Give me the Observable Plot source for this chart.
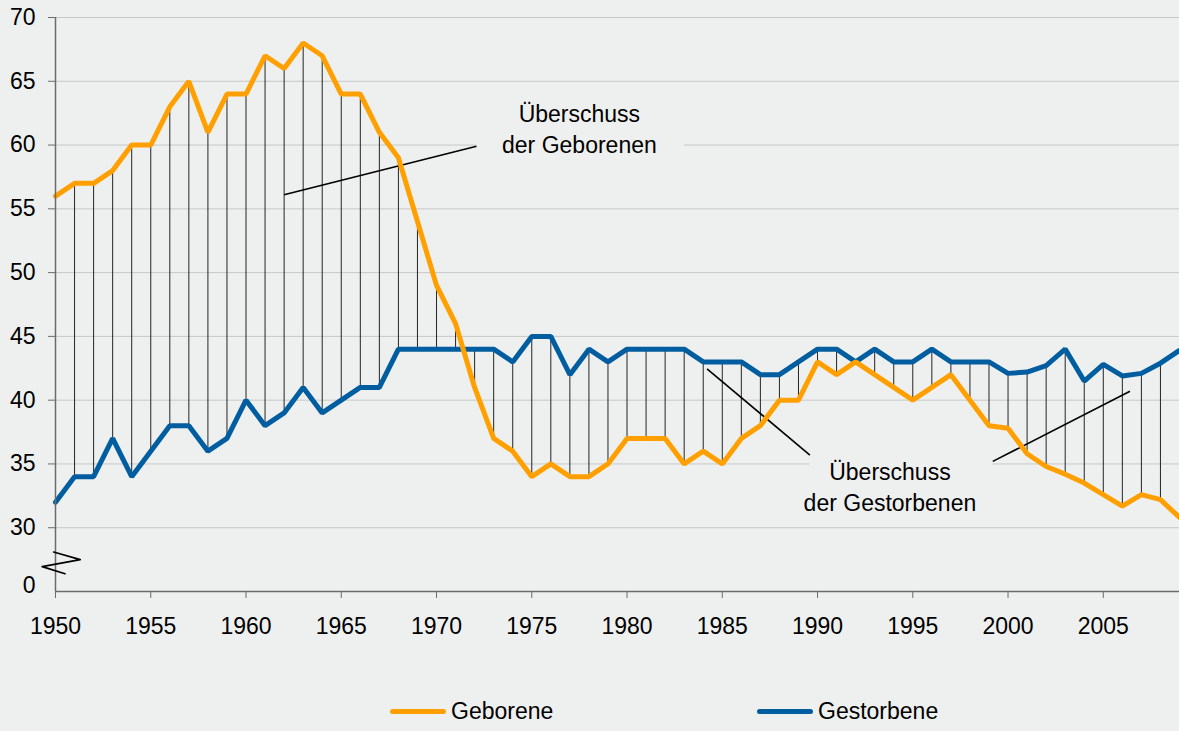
<!DOCTYPE html>
<html>
<head>
<meta charset="utf-8">
<script src="https://cdn.jsdelivr.net/npm/d3@7"></script>
<script src="https://cdn.jsdelivr.net/npm/@observablehq/plot@0.6"></script>
<style>
  html, body { margin: 0; padding: 0; background: #eef0ef; }
  #wrap { width: 1179px; height: 731px; background: #eef0ef; font-family: "Liberation Sans", Arial, sans-serif; position: relative; overflow: hidden; }
  #legend { position: relative; width: 1179px; height: 81px; }
  .item { position: absolute; top: 48px; display: flex; align-items: center; font-size: 23px; color: #000; font-family: "Liberation Sans", Arial, sans-serif; }
  .sw { width: 56px; height: 5px; border-radius: 3px; margin-right: 5px; }
</style>
</head>
<body>
<div id="wrap"><div id="chart"></div><div id="legend"></div></div>
<script>
const years = [1950,1951,1952,1953,1954,1955,1956,1957,1958,1959,
               1960,1961,1962,1963,1964,1965,1966,1967,1968,1969,
               1970,1971,1972,1973,1974,1975,1976,1977,1978,1979,
               1980,1981,1982,1983,1984,1985,1986,1987,1988,1989,
               1990,1991,1992,1993,1994,1995,1996,1997,1998,1999,
               2000,2001,2002,2003,2004,2005,2006,2007,2008,2009];
const geborene = [56,57,57,58,60,60,63,65,61,64,
                  64,67,66,68,67,64,64,61,59,54,
                  49,46,41,37,36,34,35,34,34,35,
                  37,37,37,35,36,35,37,38,40,40,
                  43,42,43,42,41,40,41,42,40,38,
                  37.8,35.8,34.8,34.2,33.5,32.6,31.7,32.6,32.2,30.8];
const gestorbene = [32,34,34,37,34,36,38,38,36,37,
                    40,38,39,41,39,40,41,41,44,44,
                    44,44,44,44,43,45,45,42,44,43,
                    44,44,44,44,43,43,43,42,42,43,
                    44,44,43,44,43,43,44,43,43,43,
                    42.1,42.2,42.7,44,41.5,42.8,41.9,42.1,42.9,43.9];
const seriesNames = ["Geborene", "Gestorbene"];
const seriesColors = ["#ffa000", "#005da0"];
const xTicks = [1950,1955,1960,1965,1970,1975,1980,1985,1990,1995,2000,2005];
const yTicks = [30,35,40,45,50,55,60,65,70];
const yBreakValue = 25;
const yBreakLabel = "0";
const annotTexts = ["Überschuss\nder Geborenen", "Überschuss\nder Gestorbenen"];
const annotTextX = [1977.5, 1993.8];
const annotTextY = [61.4, 33.3];
const annotBoxX1 = [1972.1, 1989.6];
const annotBoxX2 = [1983.0, 1999.2];
const annotBoxY1 = [58.8, 30.8];
const annotBoxY2 = [63.9, 35.95];
const leaderX1 = [1962.0, 1984.2, 1999.2];
const leaderY1 = [56.1, 42.45, 35.2];
const leaderX2 = [1972.1, 1989.6, 2006.4];
const leaderY2 = [59.9, 35.7, 40.7];
const breakX = [1949.9, 1951.3, 1949.3, 1950.5];
const breakY = [28.1, 27.5, 26.95, 26.4];

const data = years.map((y, i) => ({year: y, geb: geborene[i], gest: gestorbene[i]}));
const boxes = annotBoxX1.map((d, i) => ({x1: d, x2: annotBoxX2[i], y1: annotBoxY1[i], y2: annotBoxY2[i]}));
const labels = annotTexts.map((t, i) => ({t, x: annotTextX[i], y: annotTextY[i]}));
const leaders = leaderX1.map((d, i) => ({x1: d, y1: leaderY1[i], x2: leaderX2[i], y2: leaderY2[i]}));
const brk = breakX.map((d, i) => ({x: d, y: breakY[i]}));
const bg = "#eef0ef";
const font = '"Liberation Sans", Arial, sans-serif';

const chart = Plot.plot({
  width: 1179,
  height: 650,
  marginLeft: 55,
  marginRight: 0,
  marginTop: 17,
  marginBottom: 59,
  style: {background: bg, fontFamily: font, fontSize: "23px", color: "#000", overflow: "visible"},
  x: {domain: [1950, 2009]},
  y: {domain: [25, 70]},
  marks: [
    Plot.ruleY(yTicks, {stroke: "#c6c8c7", strokeWidth: 1}),
    Plot.rect(boxes, {x1: "x1", x2: "x2", y1: "y1", y2: "y2", fill: bg}),
    Plot.ruleX(data, {x: "year", y1: "gest", y2: "geb", stroke: "#000", strokeWidth: 1, strokeOpacity: 0.85}),
    Plot.link(leaders, {x1: "x1", y1: "y1", x2: "x2", y2: "y2", stroke: "#000", strokeWidth: 1.6}),
    Plot.line(data, {x: "year", y: "gest", stroke: seriesColors[1], strokeWidth: 5, strokeLinejoin: "miter"}),
    Plot.line(data, {x: "year", y: "geb", stroke: seriesColors[0], strokeWidth: 5, strokeLinejoin: "miter"}),
    Plot.text(labels, {x: "x", y: "y", text: "t", fontSize: 23, lineHeight: 1.35, fill: "#000", textAnchor: "middle"}),
    Plot.ruleY([yBreakValue], {stroke: "#6b6b6b", strokeWidth: 1.5}),
    Plot.ruleX([1950], {y1: yBreakValue, y2: 70, stroke: "#6b6b6b", strokeWidth: 1.5}),
    Plot.line(brk, {x: "x", y: "y", stroke: "#000", strokeWidth: 1.6, curve: "linear"}),
    Plot.axisY(yTicks, {tickSize: 7, tickPadding: 13, stroke: "#6b6b6b", fontSize: 23, label: null}),
    Plot.text([yBreakValue], {x: () => 1950, y: d => d, text: () => yBreakLabel, dx: -20, dy: -6, textAnchor: "end", fontSize: 23, fill: "#000"}),
    Plot.axisX(xTicks, {tickSize: 7, tickPadding: 19, stroke: "#6b6b6b", fontSize: 23, tickFormat: d => String(d), label: null})
  ]
});
document.getElementById("chart").appendChild(chart);

const legend = document.getElementById("legend");
const legendLeft = [390, 757];
seriesNames.forEach((name, i) => {
  const it = document.createElement("div");
  it.className = "item";
  it.style.left = legendLeft[i] + "px";
  const sw = document.createElement("div");
  sw.className = "sw";
  sw.style.background = seriesColors[i];
  const tx = document.createElement("span");
  tx.textContent = name;
  it.appendChild(sw);
  it.appendChild(tx);
  legend.appendChild(it);
});
</script>
</body>
</html>
